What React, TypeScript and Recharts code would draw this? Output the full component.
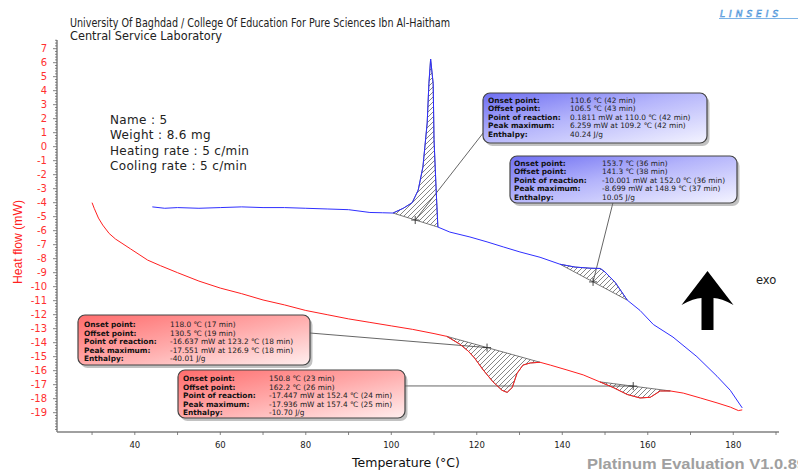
import React from 'react';
import { ComposedChart, Line, Area, XAxis, YAxis, ReferenceLine, ReferenceDot } from 'recharts';

// Heating curve (red)
const redTemp = [30.0, 30.5, 31.5, 32.5, 34, 35.5, 37, 39, 41, 43, 46, 50, 55, 60, 65, 70, 75, 80, 85, 90, 95, 100, 105, 110, 113, 116, 118, 119.5, 121.5, 123.8, 125.9, 127.1, 128.3, 129.4, 130.8, 132.5, 134.8, 137.2, 141.1, 144.9, 148.8, 151.9, 155.2, 158.2, 160.6, 162.9, 165.3, 168.3, 172.3, 176.2, 179.3, 181.2, 182.1];
const redFlow = [-4.0, -4.4, -5.1, -5.6, -6.2, -6.6, -6.9, -7.3, -7.7, -8.1, -8.5, -9.0, -9.6, -10.1, -10.5, -10.95, -11.3, -11.7, -12.0, -12.3, -12.55, -12.8, -13.05, -13.35, -13.55, -14.1, -14.6, -15.1, -15.95, -16.8, -17.4, -17.55, -17.2, -16.2, -15.6, -15.45, -15.4, -15.6, -15.95, -16.3, -16.8, -17.2, -17.7, -17.95, -17.9, -17.45, -17.45, -17.6, -17.95, -18.3, -18.6, -18.85, -18.8];

// Cooling curve (blue)
const blueTemp = [44.1, 47, 50, 55, 60, 65, 70, 75, 80, 85, 90, 95, 98, 100.4, 102.8, 104.9, 106.3, 107.4, 108.4, 108.8, 109.2, 109.8, 110.0, 110.5, 110.9, 113.7, 118.4, 122.4, 126.2, 130.1, 134.8, 139.5, 143, 146.5, 148.9, 150, 152.4, 155.2, 158.2, 161.3, 165.9, 171.5, 176.2, 179.3, 182.1];
const blueFlow = [-4.3, -4.4, -4.35, -4.4, -4.35, -4.3, -4.35, -4.35, -4.4, -4.45, -4.5, -4.7, -4.72, -4.74, -4.4, -4.0, -3.1, -1.45, 1.7, 4.5, 6.26, 4.5, 0.5, -3.1, -5.74, -6.1, -6.45, -6.8, -7.16, -7.52, -7.9, -8.4, -8.6, -8.68, -8.7, -8.95, -9.7, -10.96, -11.7, -12.7, -13.6, -15.0, -16.4, -17.4, -18.66];

// Peak integration baselines [t1, v1, t2, v2]
const baseBlue1 = [100.4, -4.74, 110.9, -5.74];
const baseBlue2 = [139.5, -8.4, 155.2, -10.96];
const baseRed1 = [113, -13.55, 134.8, -15.4];
const baseRed2 = [148.8, -16.8, 165.3, -17.45];

// Callout markers on baselines and the box anchor points (data units)
const markerTemp = [105.6, 147.2, 122.4, 156.6];
const markerFlow = [-5.24, -9.66, -14.35, -17.1];
const anchorTemp = [121.5, 151.9, 81.0, 103.2];
const anchorFlow = [0.98, -3.95, -13.31, -17.09];

// Axis ticks
const xTicks = [30, 40, 50, 60, 70, 80, 90, 100, 110, 120, 130, 140, 150, 160, 170, 180, 190];
const xTickLabels = [40, 60, 80, 100, 120, 140, 160, 180];
const yTickLabels = [7, 6, 5, 4, 3, 2, 1, 0, -1, -2, -3, -4, -5, -6, -7, -8, -9, -10, -11, -12, -13, -14, -15, -16, -17, -18, -19];

// Annotation text
const boxLabels = ['Onset point:', 'Offset point:', 'Point of reaction:', 'Peak maximum:', 'Enthalpy:'];
const boxBlue1 = ['110.6 \u2103 (42 min)', '106.5 \u2103 (43 min)', '0.1811 mW at 110.0 \u2103 (42 min)', '6.259 mW at 109.2 \u2103 (42 min)', '40.24 J/g'];
const boxBlue2 = ['153.7 \u2103 (36 min)', '141.3 \u2103 (38 min)', '-10.001 mW at 152.0 \u2103 (36 min)', '-8.699 mW at 148.9 \u2103 (37 min)', '10.05 J/g'];
const boxRed1 = ['118.0 \u2103 (17 min)', '130.5 \u2103 (19 min)', '-16.637 mW at 123.2 \u2103 (18 min)', '-17.551 mW at 126.9 \u2103 (18 min)', '-40.01 J/g'];
const boxRed2 = ['150.8 \u2103 (23 min)', '162.2 \u2103 (26 min)', '-17.447 mW at 152.4 \u2103 (24 min)', '-17.936 mW at 157.4 \u2103 (25 min)', '-10.70 J/g'];
const titleLines = ['University Of Baghdad / College Of Education For Pure Sciences Ibn Al-Haitham', 'Central Service Laboratory'];
const sampleLines = ['Name : 5', 'Weight :  8.6 mg', 'Heating rate : 5 c/min', 'Cooling rate : 5  c/min'];

const toPts = (ts: number[], vs: number[]) => ts.map((t, i) => ({ t, v: vs[i] }));
const hatchData = (ts: number[], vs: number[], base: number[]) => {
  const [t1, v1, t2, v2] = base;
  const out: { t: number; r: number[] }[] = [];
  ts.forEach((t, i) => {
    if (t >= t1 - 1e-9 && t <= t2 + 1e-9) {
      const b = v1 + ((v2 - v1) * (t - t1)) / (t2 - t1);
      out.push({ t, r: [b, vs[i]] });
    }
  });
  return out;
};

const redData = toPts(redTemp, redFlow);
const blueData = toPts(blueTemp, blueFlow);
const hatches = [
  hatchData(blueTemp, blueFlow, baseBlue1),
  hatchData(blueTemp, blueFlow, baseBlue2),
  hatchData(redTemp, redFlow, baseRed1),
  hatchData(redTemp, redFlow, baseRed2),
];

const yMinorTicks: number[] = [];
for (let i = -101; i <= 38; i++) yMinorTicks.push(Number((i * 0.2).toFixed(1)));

const FONT = 'DejaVu Sans';

const YTick = (props: any) => {
  const { x, y, payload } = props;
  const v = payload.value;
  const major = yTickLabels.indexOf(v) >= 0;
  return (
    <g>
      <line x1={x} x2={x - (major ? 4 : 2)} y1={y} y2={y} stroke="#666" strokeWidth={0.8} />
      {major && (
        <text x={x - 10} y={y} dy={3.6} textAnchor="end" fill="#ff3030" fontSize={10} fontFamily={FONT}>
          {v}
        </text>
      )}
    </g>
  );
};

const XTick = (props: any) => {
  const { x, y, payload } = props;
  const v = payload.value;
  return (
    <g>
      <line x1={x} x2={x} y1={y} y2={y + 3} stroke="#666" strokeWidth={0.8} />
      {xTickLabels.indexOf(v) >= 0 && (
        <text x={x} y={y + 16} textAnchor="middle" fill="#222" fontSize={8.5} fontFamily={FONT}>
          {v}
        </text>
      )}
    </g>
  );
};

const Cross = (props: any) => {
  const { cx, cy } = props;
  return <path d={`M${cx - 4},${cy}L${cx + 4},${cy}M${cx},${cy - 4}L${cx},${cy + 4}`} stroke="#333" strokeWidth={0.9} />;
};

const Callout = ({ x, y, w, h, grad, values, lx, vx, y0 }: any) => (
  <g>
    <rect x={x + 2.5} y={y + 3} width={w} height={h} rx={7} fill="#777" opacity={0.45} />
    <rect x={x} y={y} width={w} height={h} rx={7} fill={`url(#${grad})`} stroke="#444" strokeWidth={1.2} />
    {boxLabels.map((l, i) => (
      <text key={'l' + i} x={lx} y={y0 + i * 8.5 + 2.7} fontSize={7.4} fontWeight="bold" fill="#111" fontFamily={FONT}>
        {l}
      </text>
    ))}
    {values.map((l: string, i: number) => (
      <text key={'v' + i} x={vx} y={y0 + i * 8.5 + 2.7} fontSize={7.4} fill="#222" fontFamily={FONT}>
        {l}
      </text>
    ))}
  </g>
);

export default function App() {
  return (
    <div style={{ position: 'absolute', left: 0, top: 0, width: 798, height: 472, overflow: 'hidden', background: '#fff' }}>
      <ComposedChart width={798} height={472} margin={{ top: 40, right: 19, bottom: 10, left: 0 }}>
        <XAxis
          dataKey="t"
          type="number"
          domain={[21.8, 190.7]}
          ticks={xTicks}
          interval={0}
          tick={XTick}
          tickLine={false}
          tickSize={0}
          tickMargin={0}
          height={30}
          axisLine={{ stroke: '#808080', strokeWidth: 1.5 }}
          allowDataOverflow
        />
        <YAxis
          type="number"
          domain={[-20.38, 7.62]}
          ticks={yMinorTicks}
          interval={0}
          tick={YTick}
          tickLine={false}
          tickSize={0}
          tickMargin={0}
          width={57}
          axisLine={{ stroke: '#808080', strokeWidth: 1.5 }}
          allowDataOverflow
        />
        {hatches.map((d, i) => (
          <Area
            key={'h' + i}
            data={d}
            dataKey="r"
            type="linear"
            fill="url(#hatch)"
            fillOpacity={1}
            stroke="#555"
            strokeWidth={0.8}
            isAnimationActive={false}
            dot={false}
            activeDot={false}
          />
        ))}
        {markerTemp.map((t, i) => (
          <ReferenceLine
            key={'c' + i}
            segment={[
              { x: anchorTemp[i], y: anchorFlow[i] },
              { x: t, y: markerFlow[i] },
            ]}
            stroke="#555"
            strokeWidth={0.9}
          />
        ))}
        <Line data={blueData} dataKey="v" type="linear" stroke="#2f2fff" strokeWidth={1} dot={false} isAnimationActive={false} />
        <Line data={redData} dataKey="v" type="linear" stroke="#ff1f1f" strokeWidth={1} dot={false} isAnimationActive={false} />
        {markerTemp.map((t, i) => (
          <ReferenceDot key={'m' + i} x={t} y={markerFlow[i]} r={4} shape={Cross} />
        ))}
      </ComposedChart>
      <svg width={798} height={472} style={{ position: 'absolute', left: 0, top: 0, pointerEvents: 'none' }}>
        <defs>
          <pattern id="hatch" patternUnits="userSpaceOnUse" width={5} height={5}>
            <path d="M0,5 L5,0 M-1,1 L1,-1 M4,6 L6,4" stroke="#333" strokeWidth={0.6} />
          </pattern>
          <linearGradient id="gBlue" x1="0" y1="0" x2="1" y2="1">
            <stop offset="0%" stopColor="#6e6ef2" />
            <stop offset="45%" stopColor="#b4b4fb" />
            <stop offset="100%" stopColor="#f4f4ff" />
          </linearGradient>
          <linearGradient id="gRed" x1="0" y1="0" x2="1" y2="1">
            <stop offset="0%" stopColor="#ff6c6c" />
            <stop offset="50%" stopColor="#ffaaaa" />
            <stop offset="100%" stopColor="#ffeeee" />
          </linearGradient>
        </defs>
        <text x={70} y={27} fontSize={11.5} fill="#222" fontFamily={FONT} textLength={380} lengthAdjust="spacingAndGlyphs">
          {titleLines[0]}
        </text>
        <text x={70} y={39.5} fontSize={11.5} fill="#222" fontFamily={FONT} textLength={152} lengthAdjust="spacingAndGlyphs">
          {titleLines[1]}
        </text>
        <text x={720} y={16.5} fontSize={9} fontStyle="italic" fill="none" stroke="#3f8fd8" strokeWidth={0.6} fontFamily={FONT} letterSpacing={4}>
          LINSEIS
        </text>
        <line x1={719} x2={798} y1={18.5} y2={18.5} stroke="#5aa0e0" strokeWidth={0.8} />
        {sampleLines.map((s, i) => (
          <text key={s} x={110} y={123.5 + i * 15.5} fontSize={12} letterSpacing={0.35} fill="#222" fontFamily={FONT}>
            {s}
          </text>
        ))}
        <text
          x={0}
          y={0}
          transform="translate(21.5,242) rotate(-90)"
          textAnchor="middle"
          fontSize={13}
          fill="#ff2020"
          fontFamily="Liberation Sans"
          textLength={84}
          lengthAdjust="spacingAndGlyphs"
        >
          Heat flow (mW)
        </text>
        <text x={406} y={466.5} textAnchor="middle" fontSize={12.5} fill="#111" fontFamily={FONT}>
          Temperature (°C)
        </text>
        <text x={587} y={469} fontSize={14} fontWeight="bold" fill="#a0a0a0" fontFamily="Liberation Sans" textLength={219} lengthAdjust="spacingAndGlyphs">
          Platinum Evaluation V1.0.89
        </text>
        <text x={756} y={284} fontSize={11.5} fill="#222" fontFamily={FONT}>
          exo
        </text>
        <path d="M707.5,271 L733.5,305 Q721,298 713.5,298 L713.5,330 L701.5,330 L701.5,298 Q694,298 681.5,305 Z" fill="#000" />
        <Callout x={483} y={93} w={224} h={50} grad="gBlue" values={boxBlue1} lx={488} vx={570} y0={100} />
        <Callout x={510} y={156} w={227} h={47} grad="gBlue" values={boxBlue2} lx={514} vx={602} y0={163} />
        <Callout x={78} y={315} w={232} h={50} grad="gRed" values={boxRed1} lx={84} vx={170} y0={324.5} />
        <Callout x={178} y={370} w={227} h={48} grad="gRed" values={boxRed2} lx={183} vx={269} y0={378.5} />
      </svg>
    </div>
  );
}
